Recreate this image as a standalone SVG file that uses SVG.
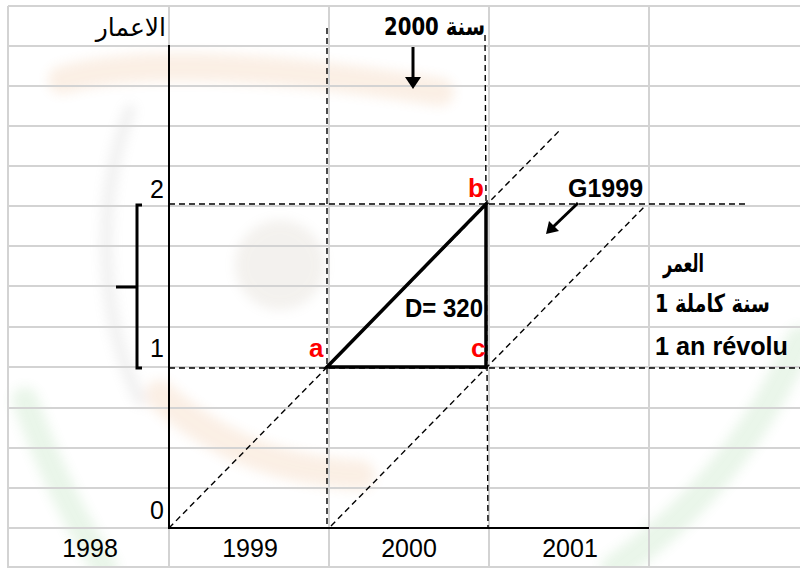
<svg xmlns="http://www.w3.org/2000/svg" width="800" height="568" viewBox="0 0 800 568">
<defs>
<style>
.grid{stroke:#d3d3d3;stroke-width:2;fill:none}
.axis{stroke:#000;stroke-width:2;fill:none}
.dash{stroke:#000;stroke-width:1.4;stroke-dasharray:6 4;fill:none}
.tri{stroke:#000;stroke-width:3.5;fill:none;stroke-linejoin:miter}
.t{font-family:"Liberation Sans","DejaVu Sans",sans-serif;font-size:25px;fill:#000}
.b{font-weight:bold}
.red{fill:#ff0000;font-weight:bold;font-size:26px}
.ar{font-family:"DejaVu Sans","Liberation Sans",sans-serif}
.wm{fill:none;stroke-linecap:round}
</style>
<filter id="blur" x="-20%" y="-20%" width="140%" height="140%"><feGaussianBlur stdDeviation="6"/></filter>
</defs>
<rect width="800" height="568" fill="#fff"/>
<g id="watermark" filter="url(#blur)" opacity="0.13">
<path class="wm" d="M62,80 C150,55 300,70 440,92" stroke="#e0873a" stroke-width="28"/>
<path class="wm" d="M160,395 C210,440 270,470 360,475" stroke="#e0873a" stroke-width="30"/>
<circle cx="280" cy="265" r="45" fill="#a89880"/>
<path class="wm" d="M130,110 C95,200 100,320 140,400" stroke="#909090" stroke-width="12"/>
<path class="wm" d="M25,400 C50,470 80,530 105,568" stroke="#5cb85c" stroke-width="26"/>
<path class="wm" d="M800,340 C760,430 700,510 615,568" stroke="#5cb85c" stroke-width="28"/>
</g>
<g id="grid">
<path class="grid" d="M8,6V568M169,6V568M329,6V568M489,6V568M649,6V568"/>
<path class="grid" d="M8,6H800M8,46H800M8,86H800M8,126H800M8,166H800M8,206H800M8,246H800M8,286H800M8,327H800M8,367H800M8,408H800M8,448H800M8,488H800M8,528H800M8,567H800"/>
</g>
<g id="connectors">
<path class="axis" d="M169,45V528H649"/>
<path class="dash" d="M327,28V528"/>
<path class="dash" d="M485,35L488,528"/>
<path class="dash" d="M169,204H745"/>
<path class="dash" d="M169,368H800"/>
<path class="dash" d="M169,528L560,130"/>
<path class="dash" d="M331,526L645,206"/>
<path class="tri" d="M327,367L486,204V367Z"/>
<path d="M413,47V78" stroke="#000" stroke-width="3"/>
<path d="M405,77H421L413,89Z" fill="#000"/>
<path d="M578,203L553,227" stroke="#000" stroke-width="3"/>
<path d="M546,234L549,221L559,231Z" fill="#000"/>
<path d="M142,205H137V368H142M116,287H137" stroke="#000" stroke-width="3" fill="none"/>
</g>
<g id="labels">
<text class="t ar" x="166" y="36" text-anchor="end" font-size="21">الاعمار</text>
<text class="t b ar" x="485" y="35" text-anchor="end" textLength="101" lengthAdjust="spacingAndGlyphs" font-size="24">سنة 2000</text>
<text class="t" x="164" y="198" text-anchor="end">2</text>
<text class="t" x="164" y="357" text-anchor="end">1</text>
<text class="t" x="164" y="519" text-anchor="end">0</text>
<text class="t" x="90" y="557" text-anchor="middle">1998</text>
<text class="t" x="250" y="557" text-anchor="middle">1999</text>
<text class="t" x="409" y="557" text-anchor="middle">2000</text>
<text class="t" x="570" y="557" text-anchor="middle">2001</text>
<text class="t red" x="468" y="197">b</text>
<text class="t red" x="309" y="357">a</text>
<text class="t red" x="471" y="357">c</text>
<text class="t b" x="405" y="317" textLength="78" lengthAdjust="spacingAndGlyphs">D= 320</text>
<text class="t b" x="568" y="197">G1999</text>
<text class="t b ar" x="704" y="272" text-anchor="end" font-size="20" textLength="41" lengthAdjust="spacingAndGlyphs">العمر</text>
<text class="t b ar" x="770" y="312" text-anchor="end" font-size="24" textLength="115" lengthAdjust="spacingAndGlyphs">سنة كاملة 1</text>
<text class="t b" x="655" y="355" font-size="26" textLength="133" lengthAdjust="spacingAndGlyphs">1 an révolu</text>
</g>
</svg>
